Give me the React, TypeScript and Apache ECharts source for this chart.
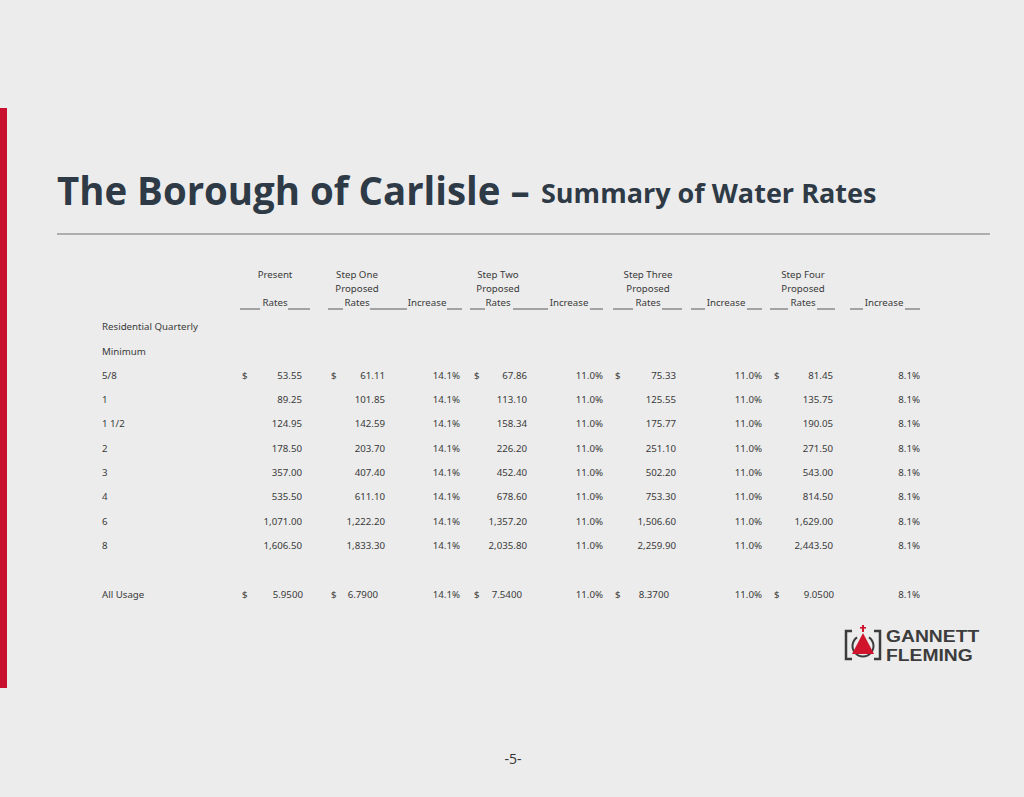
import React, { useEffect, useRef } from "react";
import * as echarts from "echarts";

// ---------- data ----------
const sizes = ["5/8", "1", "1 1/2", "2", "3", "4", "6", "8"];
const presentRates = [53.55, 89.25, 124.95, 178.5, 357.0, 535.5, 1071.0, 1606.5];
const stepOneRates = [61.11, 101.85, 142.59, 203.7, 407.4, 611.1, 1222.2, 1833.3];
const stepTwoRates = [67.86, 113.1, 158.34, 226.2, 452.4, 678.6, 1357.2, 2035.8];
const stepThreeRates = [75.33, 125.55, 175.77, 251.1, 502.2, 753.3, 1506.6, 2259.9];
const stepFourRates = [81.45, 135.75, 190.05, 271.5, 543.0, 814.5, 1629.0, 2443.5];
const stepIncreases = ["14.1%", "11.0%", "11.0%", "8.1%"];
const usageRates = [5.95, 6.79, 7.54, 8.37, 9.05];
const headerLines = [
  ["Present", "", "Rates"],
  ["Step One", "Proposed", "Rates"],
  ["", "", "Increase"],
  ["Step Two", "Proposed", "Rates"],
  ["", "", "Increase"],
  ["Step Three", "Proposed", "Rates"],
  ["", "", "Increase"],
  ["Step Four", "Proposed", "Rates"],
  ["", "", "Increase"],
];
const sectionLabels = ["Residential Quarterly", "Minimum"];
const usageLabel = "All Usage";
const titleMain = "The Borough of Carlisle \u2013";
const titleSub = "Summary of Water Rates";
const logoLines = ["GANNETT", "FLEMING"];
const pageNumber = "-5-";

// ---------- layout ----------
const TXT = "#3a3a3a";
const FONT = "Noto Sans";
const FS = 9.7;
const headerCenters = [275, 357, 427, 498, 569, 648, 726, 803, 884];
const headerY = [274, 288, 302];
const underlineSegs = [
  [240, 260], [288, 310], [328, 343], [370, 407], [447, 462], [470, 485], [513, 548],
  [590, 603], [613, 633], [662, 682], [691, 705], [747, 762], [770, 788], [817, 835],
  [850, 863], [905, 920],
];
const dollarX = [242, 331, 474, 615, 774];
const rateRight = [302, 385, 527, 676, 833];
const usageRight = [303, 378, 522, 669, 834];
const incRight = [460, 603, 762, 920];
const rowY0 = 375;
const rowStep = 24.35;
const usageY = 594;
const labelX = 102;

const fmt2 = (v: number) =>
  v.toLocaleString("en-US", { minimumFractionDigits: 2, maximumFractionDigits: 2 });
const fmt4 = (v: number) =>
  v.toLocaleString("en-US", { minimumFractionDigits: 4, maximumFractionDigits: 4 });

function txt(text: string, x: number, y: number, align: string, extra: any = {}) {
  return {
    type: "text",
    x,
    y,
    silent: true,
    style: {
      text,
      fill: TXT,
      fontSize: FS,
      fontFamily: FONT,
      align,
      textAlign: align,
      verticalAlign: "middle",
      textVerticalAlign: "middle",
      ...extra,
    },
  };
}

function buildGraphics() {
  const g: any[] = [];
  // red side bar
  g.push({ type: "rect", shape: { x: 0, y: 108, width: 7, height: 580 }, style: { fill: "#c8102e" } });
  // title
  g.push({
    type: "text", x: 57, y: 189, scaleX: 0.96,
    style: { text: titleMain, fill: "#2e3a46", fontSize: 40, fontWeight: "bold", fontFamily: "Open Sans",
      align: "left", textAlign: "left", verticalAlign: "middle", textVerticalAlign: "middle" },
  });
  g.push({
    type: "text", x: 541, y: 192, scaleX: 1.0,
    style: { text: titleSub, fill: "#2e3a46", fontSize: 27, fontWeight: "bold", fontFamily: "Open Sans",
      align: "left", textAlign: "left", verticalAlign: "middle", textVerticalAlign: "middle" },
  });
  g.push({ type: "line", shape: { x1: 57, y1: 234, x2: 990, y2: 234 }, style: { stroke: "#9a9a9a", lineWidth: 1.5 } });

  // headers
  headerLines.forEach((lines, i) => {
    lines.forEach((t, j) => {
      if (t) g.push(txt(t, headerCenters[i], headerY[j], "center"));
    });
  });
  underlineSegs.forEach(([a, b]) => {
    g.push({ type: "line", shape: { x1: a, y1: 309, x2: b, y2: 309 }, style: { stroke: "#5a5a5a", lineWidth: 1 } });
  });

  // section labels
  g.push(txt(sectionLabels[0], labelX, 326, "left"));
  g.push(txt(sectionLabels[1], labelX, 351, "left"));

  const rateCols = [presentRates, stepOneRates, stepTwoRates, stepThreeRates, stepFourRates];
  sizes.forEach((s, r) => {
    const y = rowY0 + r * rowStep;
    g.push(txt(s, labelX, y, "left"));
    rateCols.forEach((col, c) => {
      if (r === 0) g.push(txt("$", dollarX[c], y, "left"));
      g.push(txt(fmt2(col[r]), rateRight[c], y, "right"));
    });
    stepIncreases.forEach((inc, c) => g.push(txt(inc, incRight[c], y, "right")));
  });

  // all usage
  g.push(txt(usageLabel, labelX, usageY, "left"));
  usageRates.forEach((v, c) => {
    g.push(txt("$", dollarX[c], usageY, "left"));
    g.push(txt(fmt4(v), usageRight[c], usageY, "right"));
  });
  stepIncreases.forEach((inc, c) => g.push(txt(inc, incRight[c], usageY, "right")));

  // logo
  const dark = "#3c3c3c";
  const red = "#d0142c";
  g.push({ type: "polyline", shape: { points: [[852, 631], [846, 631], [846, 659], [852, 659]] }, style: { stroke: dark, lineWidth: 2.5, fill: "none" } });
  g.push({ type: "polyline", shape: { points: [[874, 631], [880, 631], [880, 659], [874, 659]] }, style: { stroke: dark, lineWidth: 2.5, fill: "none" } });
  g.push({ type: "arc", shape: { cx: 863, cy: 646, r: 10.5, startAngle: -Math.PI / 2 + 0.6, endAngle: -Math.PI / 2 - 0.6 + Math.PI * 2 }, style: { stroke: dark, lineWidth: 2, fill: "none" } });
  g.push({ type: "polygon", shape: { points: [[863, 633], [852, 654], [874, 654]] }, style: { fill: red } });
  g.push({ type: "rect", shape: { x: 862, y: 625, width: 2, height: 7 }, style: { fill: red } });
  g.push({ type: "rect", shape: { x: 860, y: 627, width: 6, height: 1.6 }, style: { fill: red } });
  logoLines.forEach((t, i) => {
    g.push({
      type: "text", x: 886, y: 636 + i * 19.5, scaleX: 1.17,
      style: { text: t, fill: dark, fontSize: 16.5, fontWeight: "bold", fontFamily: "Liberation Sans",
        align: "left", textAlign: "left", verticalAlign: "middle", textVerticalAlign: "middle" },
    });
  });

  // page number
  g.push({
    type: "text", x: 513, y: 758,
    style: { text: pageNumber, fill: "#333", fontSize: 14, fontFamily: "Open Sans",
      align: "center", textAlign: "center", verticalAlign: "middle", textVerticalAlign: "middle" },
  });
  return g;
}

export default function App() {
  const ref = useRef<HTMLDivElement>(null);
  useEffect(() => {
    if (!ref.current) return;
    const chart = echarts.init(ref.current, undefined, { renderer: "svg" });
    chart.setOption({
      animation: false,
      backgroundColor: "#ececec",
      graphic: { elements: buildGraphics() },
    });
    return () => chart.dispose();
  }, []);
  return (
    <div
      ref={ref}
      style={{ position: "absolute", left: 0, top: 0, width: 1024, height: 797 }}
    />
  );
}
